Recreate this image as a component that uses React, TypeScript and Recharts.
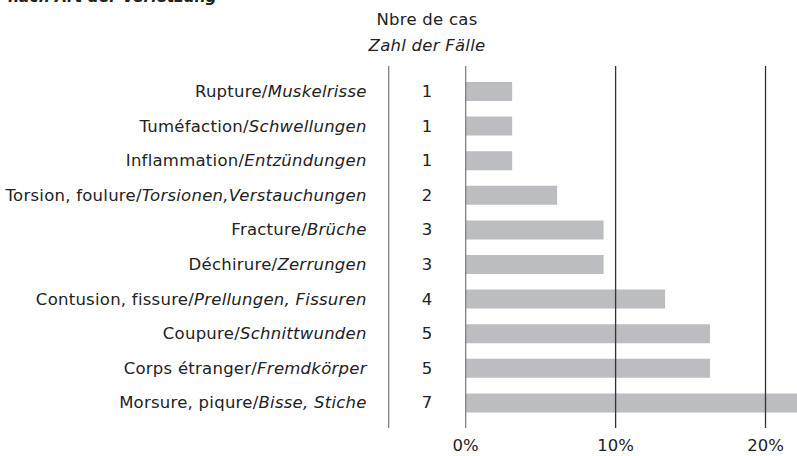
import React from "react";
import { BarChart, Bar, XAxis, YAxis, ReferenceLine } from "recharts";

const frenchLabels = [
  "Rupture",
  "Tuméfaction",
  "Inflammation",
  "Torsion, foulure",
  "Fracture",
  "Déchirure",
  "Contusion, fissure",
  "Coupure",
  "Corps étranger",
  "Morsure, piqure",
];
const germanLabels = [
  "Muskelrisse",
  "Schwellungen",
  "Entzündungen",
  "Torsionen,Verstauchungen",
  "Brüche",
  "Zerrungen",
  "Prellungen, Fissuren",
  "Schnittwunden",
  "Fremdkörper",
  "Bisse, Stiche",
];
const caseCounts = [1, 1, 1, 2, 3, 3, 4, 5, 5, 7];
const sharePercent = [3.1, 3.1, 3.1, 6.1, 9.2, 9.2, 13.3, 16.3, 16.3, 22.4];
const xTicks = [0, 10, 20];

const names = frenchLabels.map((fr, i) => `${fr}/${germanLabels[i]}`);
const data = names.map((name, i) => ({
  name,
  count: caseCounts[i],
  pct: sharePercent[i],
}));

const FONT = "'DejaVu Sans', sans-serif";
const FS = 16.5;
const LS = 0.25;
const INK = "#222";

const LabelTick = (props: any) => {
  const { x, y, payload } = props;
  const i = names.indexOf(payload.value);
  return (
    <text
      x={x - 22}
      y={y}
      dy="0.35em"
      textAnchor="end"
      fontSize={FS}
      letterSpacing={LS}
      fill={INK}
    >
      <tspan>{frenchLabels[i]}/</tspan>
      <tspan fontStyle="italic">{germanLabels[i]}</tspan>
    </text>
  );
};

const CountTick = (props: any) => {
  const { x, y, payload } = props;
  const i = names.indexOf(payload.value);
  return (
    <text x={x - 38.7} y={y} dy="0.35em" textAnchor="middle" fontSize={FS} fill={INK}>
      {caseCounts[i]}
    </text>
  );
};

export default function App() {
  const headStyle: React.CSSProperties = {
    position: "absolute",
    left: 327,
    width: 200,
    textAlign: "center",
    fontSize: FS,
    letterSpacing: LS,
    lineHeight: "18px",
  };
  return (
    <div
      style={{
        position: "absolute",
        left: 0,
        top: 0,
        width: 797,
        height: 456,
        overflow: "hidden",
        fontFamily: FONT,
        color: INK,
        background: "#fff",
      }}
    >
      {/* title sits mostly above the frame, as in the source crop */}
      <div
        style={{
          position: "absolute",
          left: 8,
          top: -12,
          fontSize: 15.5,
          lineHeight: "18px",
          fontWeight: 700,
          fontStyle: "italic",
        }}
      >
        nach Art der Verletzung
      </div>
      <div style={{ ...headStyle, top: 11 }}>Nbre de cas</div>
      <div style={{ ...headStyle, top: 37, fontStyle: "italic" }}>Zahl der Fälle</div>
      <BarChart
        width={797}
        height={456}
        data={data}
        layout="vertical"
        margin={{ top: 66, right: 0, bottom: 0, left: 8.7 }}
      >
        <XAxis
          type="number"
          domain={[0, 22.1]}
          allowDataOverflow
          ticks={xTicks}
          tickFormatter={(v: number) => `${v}%`}
          axisLine={false}
          tickLine={false}
          tickMargin={5}
          tick={{ fontSize: FS, fill: INK }}
          height={28}
          interval={0}
        />
        <YAxis
          yAxisId="count"
          type="category"
          dataKey="name"
          width={77}
          padding={{ top: 8, bottom: 8 }}
          axisLine={false}
          tickLine={false}
          tickSize={0}
          tickMargin={0}
          interval={0}
          tick={<CountTick />}
        />
        <YAxis
          yAxisId="label"
          type="category"
          dataKey="name"
          width={380}
          padding={{ top: 8, bottom: 8 }}
          axisLine={{ stroke: "#777", strokeWidth: 1.2 }}
          tickLine={false}
          tickSize={0}
          tickMargin={0}
          interval={0}
          tick={<LabelTick />}
        />
        {xTicks.map((t) => (
          <ReferenceLine
            key={t}
            x={t}
            yAxisId="label"
            stroke={t === 0 ? "#777" : "#333"}
            strokeWidth={t === 0 ? 1.2 : 1.3}
          />
        ))}
        <Bar
          dataKey="pct"
          yAxisId="label"
          fill="#bcbdc0"
          barSize={19}
          isAnimationActive={false}
        />
      </BarChart>
    </div>
  );
}
